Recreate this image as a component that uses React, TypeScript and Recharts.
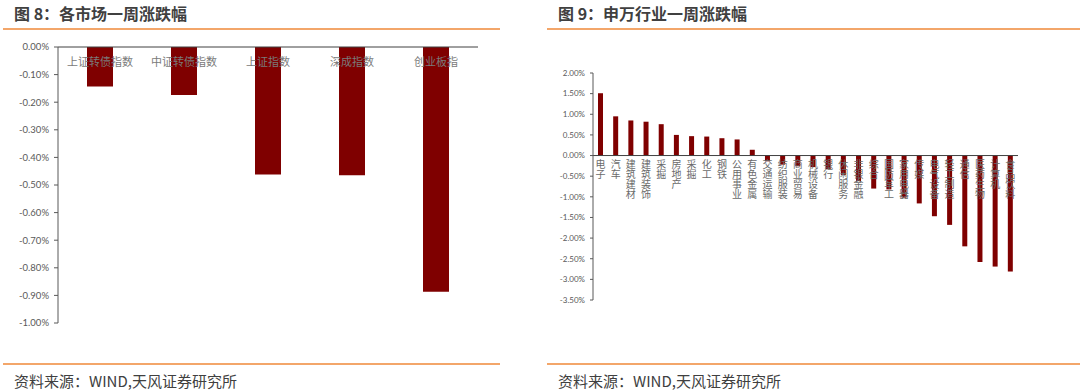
import { Bar, BarChart, LabelList, ReferenceLine, XAxis, YAxis } from "recharts";

// 图 8：各市场一周涨跌幅 (%)
const marketNames = ["上证转债指数", "中证转债指数", "上证指数", "深成指数", "创业板指"];
const marketChange = [-0.143, -0.174, -0.462, -0.465, -0.887];
const marketTicks = [0, -0.1, -0.2, -0.3, -0.4, -0.5, -0.6, -0.7, -0.8, -0.9, -1.0];

// 图 9：申万行业一周涨跌幅 (%)
const industryNames = [
  "电子", "汽车", "建筑建材", "建筑装饰", "采掘", "房地产", "采掘", "化工", "钢铁",
  "公用事业", "有色金属", "交通运输", "纺织服装", "商业贸易", "机械设备", "银行",
  "休闲服务", "非银金融", "综合", "国防军工", "家用电器", "传媒", "电气设备",
  "轻工制造", "通信", "医药生物", "计算机", "食品饮料",
];
const industryChange = [
  1.51, 0.95, 0.85, 0.82, 0.76, 0.5, 0.47, 0.46, 0.42, 0.39, 0.14, -0.14, -0.22,
  -0.26, -0.28, -0.33, -0.47, -0.62, -0.8, -0.82, -1.02, -1.16, -1.47, -1.68,
  -2.2, -2.58, -2.69, -2.81,
];
const industryTicks = [2, 1.5, 1, 0.5, 0, -0.5, -1, -1.5, -2, -2.5, -3, -3.5];

const BAR_RED = "#7f0000";
const ORANGE = "#f3a66a";
const CJK = "'Noto Sans CJK SC', 'Noto Sans', sans-serif";
const NUM = "Lato, 'Noto Sans', sans-serif";

const pct = (v: number) => `${v.toFixed(2)}%`;

const marketData = marketNames.map((name, i) => ({ name, value: marketChange[i] }));
const industryData = industryNames.map((name, i) => ({ name, value: industryChange[i] }));

function box(props: any) {
  const vb = props.viewBox ?? props;
  const { x, y, width, height } = vb;
  return {
    cx: x + width / 2,
    top: Math.min(y, y + height),
    bottom: Math.max(y, y + height),
  };
}

// category label sits just under the zero line, over the bars
function MarketLabel(props: any) {
  const { cx, top } = box(props);
  return (
    <text x={cx} y={top + 19} textAnchor="middle" fontSize={11} fontFamily={CJK} fill="#7a7a7a">
      {props.value}
    </text>
  );
}

// vertical labels, one character per line, hanging from the zero line
function IndustryLabel(props: any) {
  const { cx, top, bottom } = box(props);
  const base = industryChange[props.index] >= 0 ? bottom : top;
  return (
    <text
      x={cx}
      y={base + 4}
      fontSize={10}
      fontFamily={CJK}
      fill="#6a6a6a"
      style={{ writingMode: "vertical-rl" }}
    >
      {props.value}
    </text>
  );
}

const line = (left: number, top: number, width: number) => (
  <div style={{ position: "absolute", left, top, width, height: 2, background: ORANGE }} />
);

const title = (left: number, text: string) => (
  <div
    style={{
      position: "absolute",
      left,
      top: 3,
      fontSize: 16,
      lineHeight: "20px",
      fontWeight: 700,
      color: "#404040",
      fontFamily: CJK,
      whiteSpace: "nowrap",
    }}
  >
    {text}
  </div>
);

const source = (left: number) => (
  <div
    style={{
      position: "absolute",
      left,
      top: 371,
      fontSize: 15,
      lineHeight: "20px",
      color: "#404040",
      fontFamily: CJK,
      whiteSpace: "nowrap",
    }}
  >
    资料来源：WIND,天风证券研究所
  </div>
);

export default function App() {
  return (
    <div
      style={{
        position: "absolute",
        left: 0,
        top: 0,
        width: 1080,
        height: 391,
        background: "#fff",
        overflow: "hidden",
      }}
    >
      {title(14, "图 8：各市场一周涨跌幅")}
      {title(558, "图 9：申万行业一周涨跌幅")}
      {line(3, 28, 497)}
      {line(547, 28, 533)}

      <div style={{ position: "absolute", left: 0, top: 0 }}>
        <BarChart
          width={540}
          height={391}
          data={marketData}
          margin={{ top: 47, right: 62, bottom: 68, left: 0 }}
        >
          <XAxis dataKey="name" hide />
          <YAxis
            domain={[-1, 0]}
            ticks={marketTicks}
            interval={0}
            tickFormatter={pct}
            width={58}
            tickSize={4}
            tickMargin={5}
            axisLine={{ stroke: "#595959" }}
            tickLine={{ stroke: "#595959" }}
            tick={{ fontSize: 9.5, fill: "#595959", fontFamily: NUM }}
          />
          <ReferenceLine y={0} stroke="#404040" />
          <Bar dataKey="value" fill={BAR_RED} barSize={26} isAnimationActive={false}>
            <LabelList dataKey="name" content={MarketLabel} />
          </Bar>
        </BarChart>
      </div>

      <div style={{ position: "absolute", left: 540, top: 0 }}>
        <BarChart
          width={540}
          height={391}
          data={industryData}
          margin={{ top: 73, right: 62, bottom: 91, left: 0 }}
        >
          <XAxis dataKey="name" hide />
          <YAxis
            domain={[-3.5, 2]}
            ticks={industryTicks}
            interval={0}
            tickFormatter={pct}
            width={53}
            tickSize={3}
            tickMargin={5}
            axisLine={{ stroke: "#595959" }}
            tickLine={{ stroke: "#595959" }}
            tick={{ fontSize: 8, fill: "#595959", fontFamily: NUM }}
          />
          <ReferenceLine y={0} stroke="#404040" />
          <Bar dataKey="value" fill={BAR_RED} barSize={5} isAnimationActive={false}>
            <LabelList dataKey="name" content={IndustryLabel} />
          </Bar>
        </BarChart>
      </div>

      {line(3, 363, 497)}
      {line(547, 363, 533)}
      {source(14)}
      {source(558)}
    </div>
  );
}
